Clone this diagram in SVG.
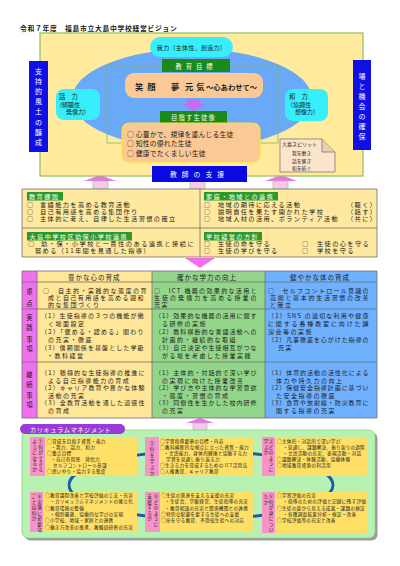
<svg xmlns="http://www.w3.org/2000/svg" width="400" height="566" viewBox="0 0 400 566">
<style>
text{font-family:"Noto Sans CJK JP","Noto Sans",sans-serif;fill:#1a1a1a}
.b{font-size:6.2px;letter-spacing:1.4px}
.t{font-size:6px;letter-spacing:1.5px}
.h{font-size:6.5px;letter-spacing:1px}
.w{fill:#fff}
.s{font-size:4.6px;letter-spacing:0.3px}
.lab{fill:#2a9a2a}
.vt{font-size:7px;fill:#fff;text-anchor:middle}
.vp{font-size:4.6px;text-anchor:middle}
.vk{font-size:6.3px;text-anchor:middle}
.bub{fill:#36eefc}
.pk{fill:#f7c8e8;stroke:#8fd08a;stroke-width:0.7}
.ph{fill:#f26ef2}
.cy{fill:#ffe066}
.cp{fill:#f794c8}
.grid{stroke:#6f6f6f;stroke-width:0.8;fill:none}
</style>
<rect width="400" height="566" fill="#fff"/>
<text x="20" y="31" font-size="6.8" font-weight="bold" letter-spacing="0.7">令和７年度　福島市立大島中学校経営ビジョン</text>

<g id="connectors">
<polygon class="ph" points="100,175 116,181 84,181"/>
<rect class="pk" x="93" y="181" width="15" height="8"/>
<rect class="pk" x="190" y="181" width="15" height="8"/>
<polygon class="ph" points="281,175 297,181 265,181"/>
<rect class="pk" x="273" y="181" width="15" height="8"/>
<polygon class="ph" points="185,258 215,258 200,268"/>
<polygon class="ph" points="200,418 214,423 186,423"/>
<rect class="pk" x="193" y="423" width="14" height="7"/>
</g>

<g id="vision">
<rect x="40" y="33" width="323" height="143" fill="#ffea9d" stroke="#8fbf5a" stroke-width="1.2"/>
<ellipse cx="192" cy="99" rx="120" ry="50" fill="#6aa9f7"/>
<rect x="107" y="66" width="171" height="77" fill="none" stroke="#80b860" stroke-width="0.8"/>
</g>

<g id="node-ga">
<rect class="bub" x="150" y="37" width="83" height="20" rx="10"/>
<text x="191.5" y="50" font-size="6" text-anchor="middle" letter-spacing="0.3">我力（主体性、創造力）</text>
</g>
<g id="node-wa-left">
<rect class="bub" x="56" y="89" width="44" height="31" rx="8"/>
<text x="59" y="99" font-size="6.3">話　力</text>
<text x="60" y="107" font-size="6">(傾聴性</text>
<text x="66" y="114" font-size="6">発信力)</text>
</g>
<g id="node-wa-right">
<rect class="bub" x="285" y="89" width="43" height="32" rx="8"/>
<text x="289" y="99" font-size="6.3">和　力</text>
<text x="287" y="107" font-size="6">（協調性</text>
<text x="295" y="114" font-size="6">想像力）</text>
</g>

<g id="node-left-blue">
<rect x="29" y="61" width="19" height="91" fill="#1010e6"/>
<text class="vt"><tspan x="38.5" y="73.5">支</tspan><tspan x="38.5" y="83.7">持</tspan><tspan x="38.5" y="93.9">的</tspan><tspan x="38.5" y="104.1">風</tspan><tspan x="38.5" y="114.3">土</tspan><tspan x="38.5" y="124.5">の</tspan><tspan x="38.5" y="134.7">醸</tspan><tspan x="38.5" y="144.9">成</tspan></text>
</g>
<g id="node-right-blue">
<rect x="353" y="60" width="18" height="90" fill="#1010e6"/>
<text class="vt"><tspan x="362" y="79">場</tspan><tspan x="362" y="89">と</tspan><tspan x="362" y="99">機</tspan><tspan x="362" y="109">会</tspan><tspan x="362" y="119">の</tspan><tspan x="362" y="129">確</tspan><tspan x="362" y="139">保</tspan></text>
</g>

<g id="node-goal">
<rect x="162" y="59" width="68" height="13" fill="#1a8a1a"/>
<text x="196" y="68.5" font-size="6.3" class="w" text-anchor="middle" letter-spacing="4">教育目標</text>
</g>
<g id="node-egao">
<rect x="125" y="73" width="138" height="25" rx="9" fill="#fbc995"/>
<text font-size="8.3" font-weight="bold" y="90"><tspan x="135" letter-spacing="4">笑顔</tspan><tspan x="171">夢</tspan><tspan x="185" letter-spacing="3">元気</tspan><tspan x="206" font-size="7.3" letter-spacing="0">～心あわせて～</tspan></text>
</g>
<g id="arrow-purple">
<polygon points="187,99 200,99 200,104 205,104 193.5,111 182,104 187,104" fill="#c86af5"/>
</g>
<g id="node-seito">
<rect x="160" y="111" width="67" height="12" fill="#1a8a1a"/>
<text x="193.5" y="120" font-size="6.3" class="w" text-anchor="middle" letter-spacing="1.2">目指す生徒像</text>
</g>
<g id="node-items">
<rect x="122" y="123" width="138" height="39" rx="7" fill="#fbc995" stroke="#ffe033" stroke-width="1.2"/>
<text x="127" y="137" font-size="6.8" letter-spacing="0.2">○ 心豊かで、規律を重んじる生徒</text>
<text x="127" y="146" font-size="6.8" letter-spacing="0.2">○ 知性の優れた生徒</text>
<text x="127" y="155.5" font-size="6.8" letter-spacing="0.2">○ 健康でたくましい生徒</text>
</g>
<g id="node-spirit">
<path d="M280,139 H322 L335,152 V172 H280 Z" fill="#fde5cc" stroke="#6a6a6a" stroke-width="0.7"/>
<path d="M322,139 V152 H335" fill="#e8d0b8" stroke="#6a6a6a" stroke-width="0.7"/>
<text x="282" y="146" font-size="5">大島スピリット</text>
<text x="292" y="155" font-size="4.8">我を磨き</text>
<text x="292" y="162.5" font-size="4.8">話を繋ぎ</text>
<text x="292" y="170" font-size="4.8">和を紡ぐ</text>
</g>
<g id="node-shien">
<rect x="152" y="166" width="95" height="16" fill="#0a0ae0"/>
<text x="199.5" y="177" font-size="6.8" class="w" text-anchor="middle" letter-spacing="5">教師の支援</text>
</g>

<g id="node-kadai">
<rect x="22" y="189" width="355" height="68" fill="#ffe9a0"/>
<path class="grid" d="M22,189 H377 V257 H22 Z M200,189 V257 M22,228 H377"/>
<rect class="lab" x="27" y="192" width="36" height="8.5"/>
<text class="b w" x="29" y="199">教育課題</text>
<rect class="lab" x="204" y="192" width="74" height="8.5"/>
<text class="b w" x="206" y="199">家庭・地域との連携</text>
<rect class="lab" x="27" y="232" width="105" height="8.5"/>
<text class="b w" x="29.5" y="239">大島中学校区幼保小学校連携</text>
<rect class="lab" x="204" y="232" width="58" height="8.5"/>
<text class="b w" x="206" y="239">学校経営の方針</text>
<text class="b" x="27" y="206.5">○</text><text class="b" x="40" y="206.5">言語能力を高める教育活動</text>
<text class="b" x="27" y="213.5">○</text><text class="b" x="40" y="213.5">自己有用感を高める集団作り</text>
<text class="b" x="27" y="220.5">○</text><text class="b" x="40" y="220.5">主体的に考え、自律した生活習慣の確立</text>
<text class="b" x="204" y="206.5">○</text><text class="b" x="218" y="206.5">地域の期待に応える活動</text><text class="b" x="347" y="206.5">（聴く）</text>
<text class="b" x="204" y="213.5">○</text><text class="b" x="218" y="213.5">説明責任を果たす開かれた学校</text><text class="b" x="347" y="213.5">（話す）</text>
<text class="b" x="204" y="220.5">○</text><text class="b" x="218" y="220.5">地域人材の活用、ボランティア活動</text><text class="b" x="347" y="220.5">（共に）</text>
<text class="b" x="28" y="246">○</text><text class="b" x="41" y="246" textLength="154" lengthAdjust="spacing">幼・保・小学校と一貫性のある連携と接続に</text>
<text class="b" x="35" y="253">努める（11年間を見通した指導）</text>
<text class="b" x="204" y="246">○</text><text class="b" x="218" y="246">生徒の命を守る</text>
<text class="b" x="302" y="246">○</text><text class="b" x="317" y="246">生徒の心を守る</text>
<text class="b" x="204" y="253">○</text><text class="b" x="218" y="253">生徒の学びを守る</text>
<text class="b" x="302" y="253">○</text><text class="b" x="317" y="253">学校を守る</text>
</g>

<g id="node-table">
<rect x="22" y="271" width="15" height="147" fill="#f070f0"/>
<rect x="37" y="271" width="115" height="147" fill="#ffe699"/>
<rect x="152" y="271" width="113" height="147" fill="#93d68b"/>
<rect x="265" y="271" width="112" height="147" fill="#6fb1ff"/>
<path class="grid" d="M22,271 H377 V418 H22 Z M37,271 V418 M152,271 V418 M265,271 V418 M22,282 H377 M22,309 H377 M22,362 H377"/>
<text class="h" x="68" y="279.5">豊かな心の育成</text>
<text class="h" x="177" y="279.5">確かな学力の向上</text>
<text class="h" x="290" y="279.5">健やかな体の育成</text>
<text class="vk"><tspan x="29.5" y="294">重</tspan><tspan x="29.5" y="306">点</tspan></text>
<text class="vk"><tspan x="29.5" y="320">実</tspan><tspan x="29.5" y="330">践</tspan><tspan x="29.5" y="342">事</tspan><tspan x="29.5" y="351">項</tspan></text>
<text class="vk"><tspan x="29.5" y="377">継</tspan><tspan x="29.5" y="387">続</tspan><tspan x="29.5" y="398">事</tspan><tspan x="29.5" y="407">項</tspan></text>

<text class="t" x="43" y="293" textLength="105" lengthAdjust="spacing">○　自主的・実践的な態度の育</text>
<text class="t" x="48" y="300" textLength="97" lengthAdjust="spacing">成と自己有用感を高める親和</text>
<text class="t" x="48" y="307">的な集団づくり</text>
<text class="t" x="154" y="293" textLength="104" lengthAdjust="spacing">○　ICT 機器の効果的な活用と</text>
<text class="t" x="154" y="300" textLength="104" lengthAdjust="spacing">生徒の発信力を高める授業の</text>
<text class="t" x="154" y="307">充実</text>
<text class="t" x="268" y="293" textLength="102" lengthAdjust="spacing">○　セルフコントロール意識の</text>
<text class="t" x="270" y="300" textLength="100" lengthAdjust="spacing">高揚と基本的生活習慣の改善</text>
<text class="t" x="270" y="307">と確立</text>

<text class="t" x="41" y="318" textLength="104" lengthAdjust="spacing">（1）生徒指導の３つの機能が働</text>
<text class="t" x="48" y="326">く場面設定</text>
<text class="t" x="41" y="334" textLength="104" lengthAdjust="spacing">（2）「褒める・認める」関わり</text>
<text class="t" x="48" y="342">の充実・徹底</text>
<text class="t" x="41" y="350" textLength="104" lengthAdjust="spacing">（3）信頼関係を基盤とした学級</text>
<text class="t" x="47" y="358">・教科経営</text>
<text class="t" x="155" y="318" textLength="103" lengthAdjust="spacing">（1）効果的な機器の活用に関す</text>
<text class="t" x="162" y="326">る研修の実施</text>
<text class="t" x="155" y="334" textLength="103" lengthAdjust="spacing">（2）教科横断的な言語活動への</text>
<text class="t" x="162" y="342">計画的・継続的な取組</text>
<text class="t" x="155" y="350" textLength="103" lengthAdjust="spacing">（3）自己決定や生徒相互がつな</text>
<text class="t" x="162" y="358">がる場を考慮した授業実践</text>
<text class="t" x="268" y="318" textLength="102" lengthAdjust="spacing">（1）SNS の適切な利用や健康</text>
<text class="t" x="268" y="326" textLength="102" lengthAdjust="spacing">に関する各種教室に向けた講</text>
<text class="t" x="268" y="334">演会等の実施</text>
<text class="t" x="268" y="342" textLength="102" lengthAdjust="spacing">（2）凡事徹底を心がけた指導の</text>
<text class="t" x="278" y="350">充実</text>

<text class="t" x="41" y="375" textLength="105" lengthAdjust="spacing">（1）積極的な生徒指導の推進に</text>
<text class="t" x="48" y="382.6">よる自己指導能力の育成</text>
<text class="t" x="41" y="390.2" textLength="105" lengthAdjust="spacing">（2）キャリア教育や豊かな体験</text>
<text class="t" x="48" y="397.8">活動の充実</text>
<text class="t" x="41" y="405.4" textLength="105" lengthAdjust="spacing">（3）全教育活動を通した道徳性</text>
<text class="t" x="48" y="413">の育成</text>
<text class="t" x="155" y="375" textLength="103" lengthAdjust="spacing">（1）主体的・対話的で深い学び</text>
<text class="t" x="162" y="382.6">の実現に向けた授業改善</text>
<text class="t" x="155" y="390.2" textLength="103" lengthAdjust="spacing">（2）学び方や主体的な学習意欲</text>
<text class="t" x="162" y="397.8">・態度・習慣の育成</text>
<text class="t" x="155" y="405.4" textLength="103" lengthAdjust="spacing">（3）同僚性を生かした校内研修</text>
<text class="t" x="162" y="413">の充実</text>
<text class="t" x="268" y="375" textLength="102" lengthAdjust="spacing">（1）体育的活動の活性化による</text>
<text class="t" x="276" y="382.6">体力や持久力の向上</text>
<text class="t" x="268" y="390.2" textLength="102" lengthAdjust="spacing">（2）保健安全指導計画に基づい</text>
<text class="t" x="276" y="397.8">た安全指導の徹底</text>
<text class="t" x="268" y="405.4" textLength="102" lengthAdjust="spacing">（3）食育や放射線・防災教育に</text>
<text class="t" x="276" y="413">関する指導の充実</text>
</g>

<g id="node-curriculum">
<rect x="24.5" y="432.5" width="353" height="108" rx="6" fill="#9a9a9a"/>
<rect x="22" y="430" width="353" height="108" rx="6" fill="#b8f2b2" stroke="#90cc88" stroke-width="0.8"/>
<ellipse cx="201" cy="485" rx="132" ry="34" fill="none" stroke="#1f5aa8" stroke-width="2.8"/>
<rect x="20" y="424" width="105" height="10" rx="5" fill="#9a3ad8"/>
<text x="30" y="432" font-size="6.2" class="w" letter-spacing="0.6">カリキュラムマネジメント</text>
</g>

<g id="node-c1">
<rect class="cp" x="30" y="437" width="15" height="39"/>
<rect class="cy" x="45" y="437" width="92" height="39"/>
<text class="vp"><tspan x="40.5" y="443">①</tspan><tspan x="40.5" y="448.5">何</tspan><tspan x="40.5" y="454">が</tspan><tspan x="40.5" y="459.5">で</tspan><tspan x="40.5" y="465">き</tspan><tspan x="40.5" y="470.5">る</tspan><tspan x="34.5" y="443">よ</tspan><tspan x="34.5" y="448.5">う</tspan><tspan x="34.5" y="454">に</tspan><tspan x="34.5" y="459.5">な</tspan><tspan x="34.5" y="465">る</tspan><tspan x="34.5" y="470.5">か</tspan></text>
<text class="s" x="47" y="443">○育成を目指す資質・能力</text>
<text class="s" x="51" y="449">・我力、話力、和力</text>
<text class="s" x="47" y="455">○重点目標</text>
<text class="s" x="51" y="461">・自己有用感　発信力</text>
<text class="s" x="53" y="467">セルフコントロール意識</text>
<text class="s" x="47" y="473">○思いやり・協力する態度</text>
</g>
<g id="node-c2">
<rect class="cp" x="145" y="437" width="14" height="39"/>
<rect class="cy" x="159" y="437" width="94" height="39"/>
<text class="vp"><tspan x="152" y="445">②</tspan><tspan x="152" y="451">何</tspan><tspan x="152" y="457">を</tspan><tspan x="152" y="463">学</tspan><tspan x="152" y="469">ぶ</tspan><tspan x="152" y="475">か</tspan></text>
<text class="s" x="160" y="443">○学習指導要領の目標・内容</text>
<text class="s" x="160" y="449" textLength="89" lengthAdjust="spacing">○教科横断的な視点に立った資質・能力</text>
<text class="s" x="164" y="455">・言語能力、身体的健康と協働する力</text>
<text class="s" x="166" y="461">学習を見通し振り返る力</text>
<text class="s" x="160" y="467">○生きる力を育成するための ICT活用法</text>
<text class="s" x="160" y="473">○人権教育、キャリア教育</text>
</g>
<g id="node-c3">
<rect class="cp" x="262" y="437" width="13" height="39"/>
<rect class="cy" x="275" y="437" width="92" height="39"/>
<text class="vp"><tspan x="271" y="443">③</tspan><tspan x="271" y="448.5">ど</tspan><tspan x="271" y="454">の</tspan><tspan x="271" y="459.5">よ</tspan><tspan x="271" y="465">う</tspan><tspan x="271" y="470.5">に</tspan><tspan x="266" y="443">学</tspan><tspan x="266" y="448.5">ぶ</tspan><tspan x="266" y="454">か</tspan></text>
<text class="s" x="277" y="443">○主体的・対話的で深い学び</text>
<text class="s" x="283" y="449" textLength="82" lengthAdjust="spacing">・見通し、課題解決、振り返りの過程</text>
<text class="s" x="283" y="455">・言語活動の充実、表現活動・対話</text>
<text class="s" x="277" y="461">○課題解決・体験活動、協働体験</text>
<text class="s" x="277" y="467">○地域教育資源の利活用</text>
</g>
<g id="node-c4">
<rect class="cp" x="30" y="492" width="13" height="40"/>
<rect class="cy" x="43" y="492" width="94" height="40"/>
<text class="vp"><tspan x="39.5" y="498">⑥</tspan><tspan x="39.5" y="503.5">実</tspan><tspan x="39.5" y="509">施</tspan><tspan x="39.5" y="514.5">に</tspan><tspan x="39.5" y="520">必</tspan><tspan x="39.5" y="525.5">要</tspan><tspan x="39.5" y="531">な</tspan><tspan x="34" y="498">こ</tspan><tspan x="34" y="503.5">と</tspan><tspan x="34" y="509">は</tspan><tspan x="34" y="514.5">何</tspan><tspan x="34" y="520">か</tspan></text>
<text class="s" x="45" y="497">○教育課程改善と学校評価の工夫・充実</text>
<text class="s" x="50" y="503.3">・カリキュラムマネジメントの確立化</text>
<text class="s" x="45" y="509.6">○教育環境の整備</text>
<text class="s" x="50" y="515.9">・個別最適、協働的な学びの実現</text>
<text class="s" x="45" y="522.2">○小学校、地域・家庭との連携</text>
<text class="s" x="45" y="528.5">○働き方改革の推進、教職員研修の充実</text>
</g>
<g id="node-c5">
<rect class="cp" x="145" y="492" width="15" height="40"/>
<rect class="cy" x="160" y="492" width="93" height="40"/>
<text class="vp"><tspan x="156" y="498">④</tspan><tspan x="156" y="503.5">ど</tspan><tspan x="156" y="509">の</tspan><tspan x="156" y="514.5">よ</tspan><tspan x="156" y="520">う</tspan><tspan x="156" y="525.5">に</tspan><tspan x="149.5" y="498">支</tspan><tspan x="149.5" y="503.5">援</tspan><tspan x="149.5" y="509">す</tspan><tspan x="149.5" y="514.5">る</tspan><tspan x="149.5" y="520">か</tspan></text>
<text class="s" x="161" y="497">○生徒の発達を支える支援の充実</text>
<text class="s" x="165" y="503.3">・生徒会、学級経営、生徒指導の充実</text>
<text class="s" x="165" y="509.6">・教育相談の充実と関係機関との連携</text>
<text class="s" x="161" y="515.9">○特別な配慮を要する生徒への支援</text>
<text class="s" x="161" y="522.2">○命を守る教育、不登校生徒への対応</text>
</g>
<g id="node-c6">
<rect class="cp" x="262" y="492" width="13" height="41"/>
<rect class="cy" x="275" y="492" width="92" height="41"/>
<text class="vp"><tspan x="271" y="498">⑤</tspan><tspan x="271" y="503.5">何</tspan><tspan x="271" y="509">が</tspan><tspan x="271" y="514.5">身</tspan><tspan x="271" y="520">に</tspan><tspan x="271" y="525.5">つ</tspan><tspan x="271" y="531">い</tspan><tspan x="266" y="498">た</tspan><tspan x="266" y="503.5">か</tspan></text>
<text class="s" x="277" y="497">○学習評価の充実</text>
<text class="s" x="283" y="503.3">・指導のための評価と記録に残す評価</text>
<text class="s" x="277" y="509.6">○生徒の姿から見える成果・課題の検証</text>
<text class="s" x="283" y="515.9">・各種調査結果分析・検証・改善</text>
<text class="s" x="277" y="522.2">○学校評価等の充実と改善</text>
</g>
</svg>
